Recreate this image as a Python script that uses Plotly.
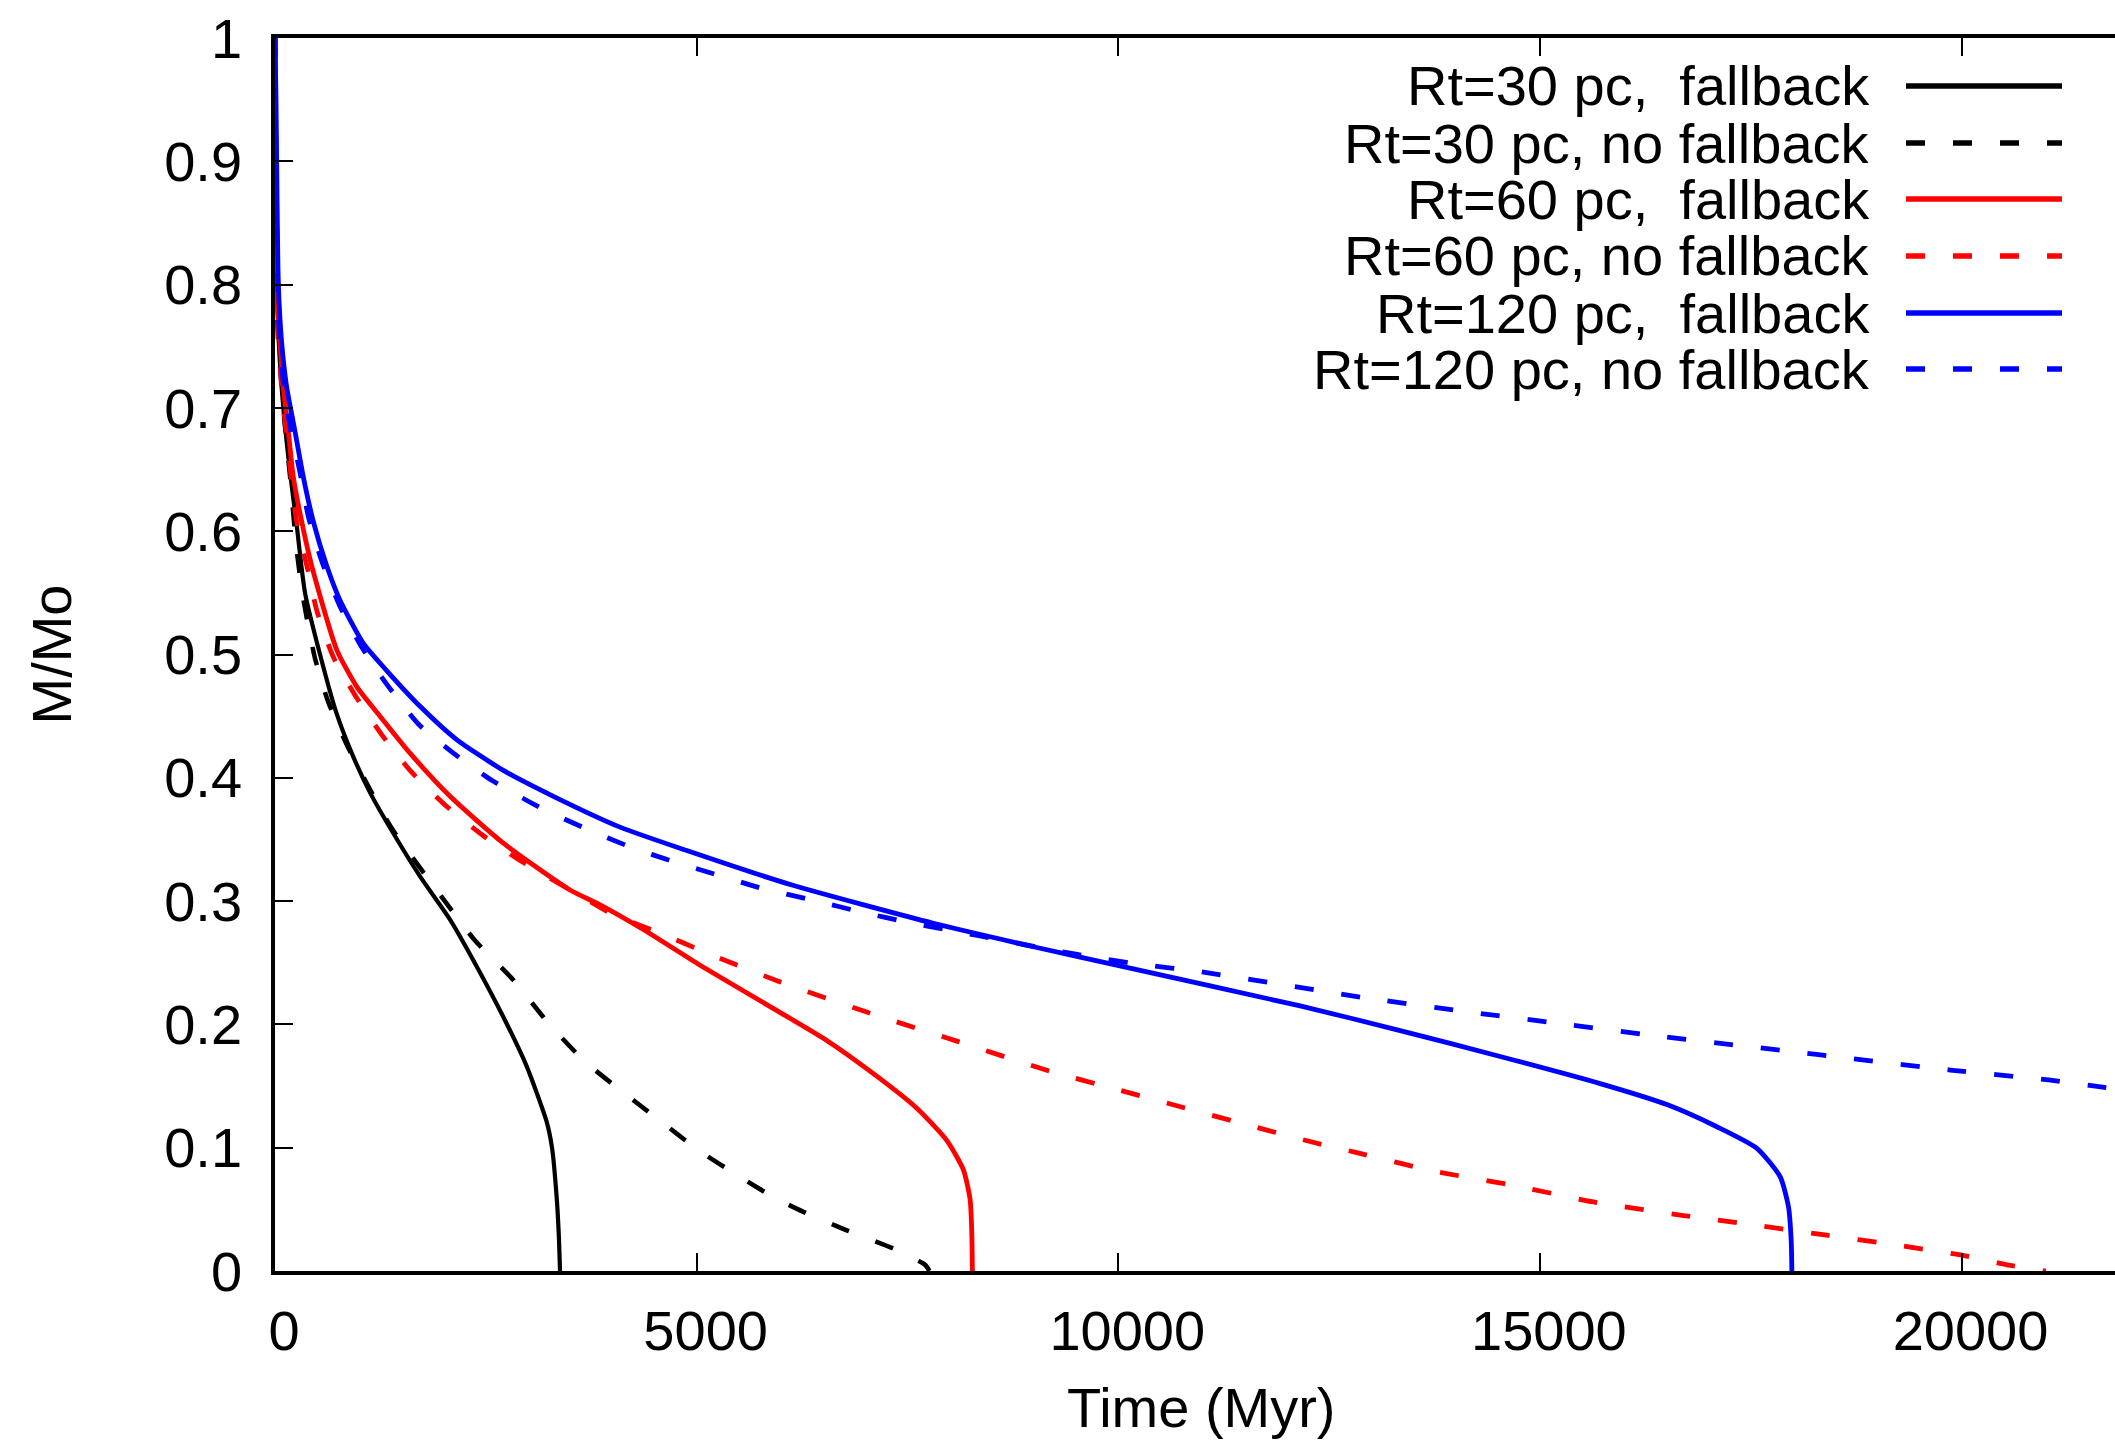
import plotly.graph_objects as go

# ---------------- data ----------------
t_30_fb = [0, 5, 15, 30, 60, 119, 178, 257, 356, 534, 731, 929, 1127, 1403, 1720,
           2076, 2392, 2708, 2985, 3222, 3285, 3340, 3365, 3380]
m_30_fb = [1.0, 0.92, 0.84, 0.78, 0.735, 0.685, 0.648, 0.605, 0.55, 0.500, 0.452,
           0.417, 0.388, 0.355, 0.320, 0.285, 0.247, 0.206, 0.166, 0.121, 0.10,
           0.06, 0.03, 0.0]

t_30_nofb = [0, 5, 15, 40, 79, 119, 178, 257, 336, 474, 629, 850, 1107, 1384, 2036,
             2372, 2826, 3242, 3657, 4032, 4527, 5021, 5476, 5910, 6266, 6780, 7373,
             7709, 7760]
m_30_nofb = [1.0, 0.90, 0.81, 0.75, 0.72, 0.685, 0.645, 0.585, 0.545, 0.497, 0.462,
             0.427, 0.393, 0.359, 0.298, 0.268, 0.236, 0.201, 0.171, 0.150, 0.124, 0.098,
             0.078, 0.060, 0.048, 0.033, 0.017, 0.005, 0.0]

t_60_fb = [0, 5, 12, 20, 59, 99, 158, 217, 316, 435, 731, 969, 1245, 1601,
           2076, 2708, 3499, 3855, 4368, 5041, 5832, 6543, 7136, 7611, 7966, 8164,
           8243, 8263, 8270]
m_60_fb = [1.0, 0.93, 0.85, 0.796, 0.753, 0.717, 0.681, 0.644, 0.608, 0.572, 0.504,
           0.474, 0.450, 0.420, 0.385, 0.347, 0.309, 0.297, 0.277, 0.248, 0.216,
           0.187, 0.158, 0.132, 0.106, 0.082, 0.058, 0.031, 0.0]

t_60_nofb = [0, 5, 15, 40, 80, 150, 257, 395, 494, 692, 949, 1265, 1601, 2016, 2451, 2906,
             3578, 4012, 4605, 5120, 5969, 7017, 8104, 9192, 9942, 12275, 12829, 13738,
             14647, 15636, 16703, 17573, 18403, 19233, 20063, 20538, 21000]
m_60_nofb = [1.0, 0.92, 0.82, 0.76, 0.715, 0.67, 0.608, 0.567, 0.536, 0.498, 0.467, 0.435,
             0.406, 0.378, 0.354, 0.333, 0.306, 0.289, 0.273, 0.258, 0.235, 0.210, 0.186,
             0.162, 0.148, 0.105, 0.096, 0.081, 0.070, 0.056, 0.045, 0.037, 0.029, 0.021,
             0.012, 0.005, 0.0]

t_120_fb = [0, 12, 20, 40, 79, 138, 237, 336, 454, 613, 771, 1048, 1324, 1720, 2154,
            2708, 3301, 4092, 4883, 6131, 7808, 8994, 10045, 12157,
            13343, 14529, 15715, 16506, 17099, 17573, 17849, 17948, 17980, 17988]
m_120_fb = [1.0, 0.95, 0.898, 0.80, 0.753, 0.717, 0.681, 0.644, 0.608, 0.572, 0.544,
            0.509, 0.487, 0.458, 0.431, 0.406, 0.385, 0.360, 0.341, 0.313,
            0.282, 0.263, 0.247, 0.215, 0.195, 0.174, 0.152, 0.135, 0.117, 0.0995,
            0.0765, 0.052, 0.025, 0.0]

t_120_nofb = [0, 8, 20, 50, 100, 178, 296, 395, 553, 771, 1028, 1324, 1700, 2115, 2570,
              3123, 3677, 4210, 4724, 5258, 5791, 6365, 6958, 7492, 8045, 8578, 9112, 9784,
              10338, 10890, 12334, 12888, 14054, 15201, 16229, 17336, 17869, 18719, 19866,
              21032, 21585, 22000]
m_120_nofb = [1.0, 0.93, 0.85, 0.76, 0.72, 0.685, 0.648, 0.612, 0.576, 0.539, 0.506, 0.476,
              0.4436, 0.420, 0.398, 0.3766, 0.359, 0.344, 0.332, 0.321, 0.310, 0.301, 0.291,
              0.283, 0.2757, 0.269, 0.2617, 0.2536, 0.248, 0.2436, 0.228, 0.222, 0.211,
              0.201, 0.192, 0.183, 0.179, 0.172, 0.163, 0.155, 0.150, 0.146]

labels = ["Rt=30 pc,\u00a0 fallback", "Rt=30 pc, no fallback",
          "Rt=60 pc,\u00a0 fallback", "Rt=60 pc, no fallback",
          "Rt=120 pc,\u00a0 fallback", "Rt=120 pc, no fallback"]

x_tick_vals = [0, 5000, 10000, 15000, 20000]
x_tick_text = ["0", "5000", "10000", "15000", "20000"]
y_tick_vals = [0, 0.1, 0.2, 0.3, 0.4, 0.5, 0.6, 0.7, 0.8, 0.9, 1.0]
y_tick_text = ["0", "0.1", "0.2", "0.3", "0.4", "0.5", "0.6", "0.7", "0.8", "0.9", "1"]

# ---------------- styling ----------------
series = [(t_30_fb, m_30_fb), (t_30_nofb, m_30_nofb),
          (t_60_fb, m_60_fb), (t_60_nofb, m_60_nofb),
          (t_120_fb, m_120_fb), (t_120_nofb, m_120_nofb)]
colors = ["#000000", "#000000", "#ff0000", "#ff0000", "#0000ff", "#0000ff"]
dashes = ["solid", "19px,28px", "solid", "19px,28px", "solid", "19px,28px"]
widths = [4.2, 4.6, 4.8, 4.8, 4.8, 4.8]

W, H = 2115, 1441
L, R, T, B = 275, 0, 38, 170
PW, PH = W - L - R, H - T - B
FONT = "Liberation Sans, Arial, Helvetica, sans-serif"
FS = 56


def px_x(X):
    return (X - L) / PW


def px_y(Y):
    return (H - B - Y) / PH


fig = go.Figure()
for (tx, my), name, c, d, w in zip(series, labels, colors, dashes, widths):
    fig.add_trace(go.Scatter(x=tx, y=my, mode="lines", name=name, showlegend=False,
                             line=dict(color=c, dash=d, width=w, shape="spline",
                                       smoothing=0.6)))

# legend drawn gnuplot-style (text right-aligned, sample on the right)
row_y = [86, 143, 199, 256, 313, 369]
annotations = []
shapes = []
for name, c, d, yy in zip(labels, colors, dashes, row_y):
    annotations.append(dict(text=name, x=px_x(1872), y=px_y(yy), xref="paper", yref="paper",
                            xanchor="right", yanchor="middle", showarrow=False,
                            font=dict(family=FONT, size=FS, color="black")))
    shapes.append(dict(type="line", xref="paper", yref="paper",
                       x0=px_x(1906), x1=px_x(2062), y0=px_y(yy), y1=px_y(yy),
                       line=dict(color=c, width=5.5, dash=d)))

annotations.append(dict(text="M/Mo", x=px_x(51), y=0.5, xref="paper", yref="paper",
                        textangle=-90, xanchor="center", yanchor="middle", showarrow=False,
                        font=dict(family=FONT, size=FS, color="black")))
annotations.append(dict(text="Time (Myr)", x=px_x(1201), y=px_y(1407), xref="paper",
                        yref="paper", xanchor="center", yanchor="middle", showarrow=False,
                        font=dict(family=FONT, size=FS, color="black")))

fig.update_layout(
    width=W, height=H,
    margin=dict(l=L, r=R, t=T, b=B, pad=0),
    paper_bgcolor="white", plot_bgcolor="white",
    font=dict(family=FONT, size=FS, color="black"),
    annotations=annotations, shapes=shapes,
    xaxis=dict(range=[0, 21820], tickvals=x_tick_vals, ticktext=x_tick_text,
               ticks="inside", ticklen=18, tickwidth=1.5, tickcolor="black",
               showline=True, linewidth=3.5, linecolor="black", mirror="ticks",
               showgrid=False, zeroline=False, ticklabelstandoff=8, ticklabelshift=9,
               tickfont=dict(family=FONT, size=FS, color="black")),
    yaxis=dict(range=[0, 1], tickvals=y_tick_vals, ticktext=y_tick_text,
               ticks="inside", ticklen=18, tickwidth=1.5, tickcolor="black",
               showline=True, linewidth=3.5, linecolor="black", mirror=False,
               showgrid=False, zeroline=False, ticklabelstandoff=18,
               tickfont=dict(family=FONT, size=FS, color="black")),
    yaxis2=dict(range=[0, 1], tickvals=y_tick_vals, overlaying="y", side="right",
                anchor="x", ticks="inside", ticklen=5, tickwidth=1.5, tickcolor="black",
                showline=False, showgrid=False, zeroline=False, showticklabels=False),
)

fig.write_html("out.html")
